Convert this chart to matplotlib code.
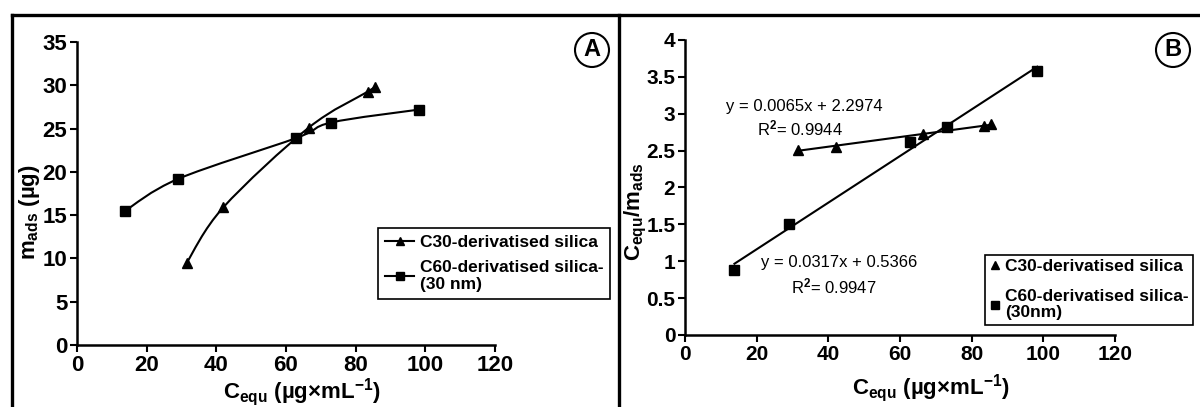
import numpy as np
import matplotlib
matplotlib.use('Agg')
import matplotlib.pyplot as plt
from matplotlib import font_manager
from matplotlib.path import Path
from matplotlib.patches import PathPatch, Circle
from matplotlib.lines import Line2D

# ---------------- data ----------------
c30_cequ = [31.5, 42.0, 66.5, 83.4, 85.5]
c30_mads = [9.5, 15.9, 25.1, 29.25, 29.8]
c30_ratio = [2.51, 2.55, 2.73, 2.83, 2.86]

c60_cequ = [13.8, 29.1, 62.9, 73.0, 98.3]
c60_mads = [15.5, 19.2, 23.9, 25.7, 27.2]
c60_ratio = [0.88, 1.51, 2.62, 2.82, 3.58]

x_ticks = [0, 20, 40, 60, 80, 100, 120]
a_y_ticks = [0, 5, 10, 15, 20, 25, 30, 35]
b_y_ticks = [0, 0.5, 1, 1.5, 2, 2.5, 3, 3.5, 4]
b_y_ticklabels = ['0', '0.5', '1', '1.5', '2', '2.5', '3', '3.5', '4']

c30_label = 'C30-derivatised silica'
c60_label_a = 'C60-derivatised silica-\n(30 nm)'
c60_label_b = 'C60-derivatised silica-\n(30nm)'
eq_c30 = 'y = 0.0065x + 2.2974'
r2_c30 = r'R$^{\mathrm{2}}$= 0.9944'
eq_c60 = 'y = 0.0317x + 0.5366'
r2_c60 = r'R$^{\mathrm{2}}$= 0.9947'

# ---------------- fonts ----------------
def has_font(name):
    try:
        font_manager.findfont(font_manager.FontProperties(family=name),
                              fallback_to_default=False)
        return True
    except Exception:
        return False

NARROW = 'Liberation Sans Narrow' if has_font('Liberation Sans Narrow') else 'Liberation Sans'
plt.rcParams['font.family'] = [NARROW, 'DejaVu Sans']
plt.rcParams['font.weight'] = 'bold'
plt.rcParams['mathtext.fontset'] = 'custom'
plt.rcParams['mathtext.rm'] = NARROW
plt.rcParams['mathtext.bf'] = NARROW + ':bold'
plt.rcParams['mathtext.default'] = 'bf'

W, H = 1200, 407
fig = plt.figure(figsize=(W / 100, H / 100), dpi=100)
fig.patch.set_facecolor('white')

def fx(x):
    return x / W

def fy(y):
    return 1 - y / H

def smooth_path(x, y):
    P = np.column_stack([x, y]).astype(float)
    n = len(P)
    verts = [P[0]]
    codes = [Path.MOVETO]
    for i in range(n - 1):
        p0 = P[i - 1] if i > 0 else P[i]
        p3 = P[i + 2] if i + 2 < n else P[i + 1]
        c1 = P[i] + (P[i + 1] - p0) / 6.0
        c2 = P[i + 1] - (p3 - P[i]) / 6.0
        verts += [c1, c2, P[i + 1]]
        codes += [Path.CURVE4] * 3
    return Path(verts, codes)

def style_axes(ax, size):
    for s in ['top', 'right']:
        ax.spines[s].set_visible(False)
    for s in ['left', 'bottom']:
        ax.spines[s].set_linewidth(1.8)
    ax.tick_params(direction='out', length=5, width=1.5, pad=2, labelsize=size)
    for lab in ax.get_xticklabels() + ax.get_yticklabels():
        lab.set_fontweight('bold')
    ax.set_facecolor('none')

# ---------------- panel A ----------------
axA = fig.add_axes([fx(77), fy(345), (495 - 77) / W, (345 - 42) / H])
axA.set_xlim(0, 120)
axA.set_ylim(0, 35)
axA.set_xticks(x_ticks)
axA.set_yticks(a_y_ticks)
axA.add_patch(PathPatch(smooth_path(c30_cequ, c30_mads), fill=False, lw=1.5, ec='black'))
axA.add_patch(PathPatch(smooth_path(c60_cequ, c60_mads), fill=False, lw=1.5, ec='black'))
axA.plot(c30_cequ, c30_mads, ls='none', marker='^', ms=7, color='black')
axA.plot(c60_cequ, c60_mads, ls='none', marker='s', ms=7, color='black')
style_axes(axA, 16)

hA30 = Line2D([], [], color='black', lw=1.5, marker='^', ms=6)
hA60 = Line2D([], [], color='black', lw=1.5, marker='s', ms=6)
legA = axA.legend(handles=[hA30, hA60], labels=[c30_label, c60_label_a],
                  loc='upper left', bbox_to_anchor=(fx(378), fy(228)),
                  bbox_transform=fig.transFigure, borderaxespad=0,
                  frameon=True, fancybox=False, edgecolor='black', framealpha=1,
                  prop=dict(family=NARROW, weight='bold', size=12.5),
                  handlelength=1.7, handletextpad=0.3, labelspacing=0.55,
                  borderpad=0.4)
legA.get_frame().set_linewidth(1.2)
for t in legA.get_texts():
    t.set_linespacing(1.2)

fig.text(fx(302), fy(392), r'C$_{\mathbf{equ}}$ (µg×mL$^{\mathbf{-1}}$)',
         ha='center', va='center', fontsize=16, fontweight='bold')
fig.text(fx(30), fy(212), r'm$_{\mathbf{ads}}$ (µg)', rotation=90,
         ha='center', va='center', fontsize=16, fontweight='bold')

# ---------------- panel B ----------------
axB = fig.add_axes([fx(685), fy(335), (1115 - 685) / W, (335 - 40) / H])
axB.set_xlim(0, 120)
axB.set_ylim(0, 4)
axB.set_xticks(x_ticks)
axB.set_yticks(b_y_ticks)
axB.set_yticklabels(b_y_ticklabels)

for xs, ys, mk in [(c30_cequ, c30_ratio, '^'), (c60_cequ, c60_ratio, 's')]:
    k, b = np.polyfit(xs, ys, 1)
    xl = np.array([min(xs), max(xs)])
    axB.plot(xl, k * xl + b, color='black', lw=1.5)
    axB.plot(xs, ys, ls='none', marker=mk, ms=7, color='black')
style_axes(axB, 15)

hB30 = Line2D([], [], ls='none', color='black', marker='^', ms=6)
hB60 = Line2D([], [], ls='none', color='black', marker='s', ms=6)
legB = axB.legend(handles=[hB30, hB60], labels=[c30_label, c60_label_b],
                  loc='upper left', bbox_to_anchor=(fx(985), fy(255)),
                  bbox_transform=fig.transFigure, borderaxespad=0,
                  frameon=True, fancybox=False, edgecolor='black', framealpha=1,
                  prop=dict(family=NARROW, weight='bold', size=12.5),
                  handlelength=0.6, handletextpad=0.3, labelspacing=0.85,
                  borderpad=0.25)
legB.get_frame().set_linewidth(1.2)
for t in legB.get_texts():
    t.set_linespacing(1.1)

fig.text(fx(726), fy(106), eq_c30, ha='left', va='center', fontsize=12,
         fontweight='normal', family='Liberation Sans')
fig.text(fx(757), fy(128), r2_c30, ha='left', va='center', fontsize=12,
         fontweight='normal', family='Liberation Sans')
fig.text(fx(761), fy(263), eq_c60, ha='left', va='center', fontsize=12,
         fontweight='normal', family='Liberation Sans')
fig.text(fx(791), fy(286), r2_c60, ha='left', va='center', fontsize=12,
         fontweight='normal', family='Liberation Sans')

fig.text(fx(931), fy(388), r'C$_{\mathbf{equ}}$ (µg×mL$^{\mathbf{-1}}$)',
         ha='center', va='center', fontsize=16, fontweight='bold')
fig.text(fx(636), fy(212), r'C$_{\mathbf{equ}}$/m$_{\mathbf{ads}}$', rotation=90,
         ha='center', va='center', fontsize=16, fontweight='bold')

# ---------------- frame and panel letters ----------------
for (x0, y0, x1, y1) in [(12, 15, W, 15), (12, 15, 12, H), (619, 15, 619, H)]:
    fig.add_artist(Line2D([fx(x0), fx(x1)], [fy(y0), fy(y1)], color='black',
                          lw=2.4, transform=fig.transFigure, solid_capstyle='projecting'))

for letter, cx, cy in [('A', 592, 50), ('B', 1173, 50)]:
    fig.add_artist(Circle((cx / 100, (H - cy) / 100), 0.17, fill=False, ec='black',
                          lw=1.5, transform=fig.dpi_scale_trans))
    fig.text(fx(cx), fy(cy), letter, ha='center', va='center', fontsize=17,
             fontweight='bold', family='Liberation Sans')

fig.savefig('out.png', dpi=100, facecolor='white')
